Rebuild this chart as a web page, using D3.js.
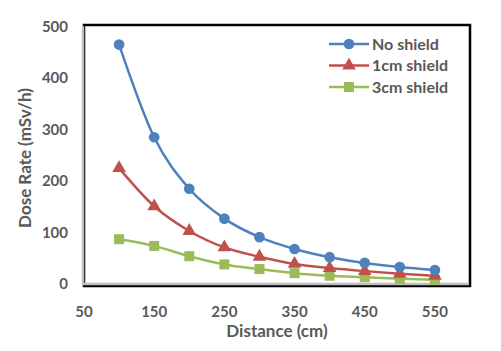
<!DOCTYPE html>
<html>
<head>
<meta charset="utf-8">
<script src="https://cdn.jsdelivr.net/npm/d3@7"></script>
<style>
  html, body { margin: 0; padding: 0; background: #fff; }
  svg text { font-family: Lato, "Open Sans", sans-serif; font-weight: bold; fill: #595959; }
</style>
</head>
<body>
<div id="chart"></div>
<script>
// Dose rate vs distance, three shielding cases
const distances = [100, 150, 200, 250, 300, 350, 400, 450, 500, 550];
const noShield  = [465, 285, 185, 127, 91, 68, 52, 41, 33, 27];
const cm1Shield = [225, 151, 103, 71, 53, 39, 31, 25, 20, 16];
const cm3Shield = [87, 74, 54, 38, 29, 21, 16, 13, 10, 8];
const xTicks = [50, 150, 250, 350, 450, 550];
const yTicks = [0, 100, 200, 300, 400, 500];

const SERIES = [
  { name: "No shield",   values: noShield,  color: "#4F81BD", shape: "circle" },
  { name: "1cm shield",  values: cm1Shield, color: "#C0504D", shape: "triangle" },
  { name: "3cm shield",  values: cm3Shield, color: "#9BBB59", shape: "square" }
];

const W = 501, H = 351;
const M = { top: 25, right: 31, bottom: 65, left: 84 };
const iW = W - M.left - M.right, iH = H - M.top - M.bottom;

const svg = d3.select("#chart").append("svg").attr("width", W).attr("height", H);
const g = svg.append("g").attr("transform", `translate(${M.left},${M.top})`);

const x = d3.scaleLinear().domain([50, 600]).range([0, iW]);
const y = d3.scaleLinear().domain([0, 503]).range([iH - 2, 0]);

// Frame: black outline with grey inner edge on left / bottom
g.append("rect").attr("x", 0).attr("y", 0).attr("width", iW).attr("height", iH)
  .attr("fill", "none").attr("stroke", "#000").attr("stroke-width", 2.5);
g.append("line").attr("x1", -1).attr("x2", -1).attr("y1", 1).attr("y2", iH - 2)
  .attr("stroke", "#bfbfbf").attr("stroke-width", 2.5);
g.append("line").attr("x1", -1).attr("x2", iW - 1).attr("y1", iH - 2).attr("y2", iH - 2)
  .attr("stroke", "#bfbfbf").attr("stroke-width", 2.5);

// Tick labels (no tick marks)
g.selectAll(".ytick").data(yTicks).join("text")
  .attr("x", -16).attr("y", d => y(d)).attr("dy", "0.35em")
  .attr("text-anchor", "end").attr("font-size", "15px").text(d => d);
g.selectAll(".xtick").data(xTicks).join("text")
  .attr("x", d => x(d)).attr("y", iH + 31)
  .attr("text-anchor", "middle").attr("font-size", "15px").text(d => d);

// Axis titles
svg.append("text").attr("transform", `translate(31,158) rotate(-90)`)
  .attr("text-anchor", "middle").attr("font-size", "17px").text("Dose Rate (mSv/h)");
svg.append("text").attr("x", 277).attr("y", 337)
  .attr("text-anchor", "middle").attr("font-size", "17px").text("Distance (cm)");

const symbolFor = {
  circle:   d3.symbol().type(d3.symbolCircle).size(90),
  triangle: d3.symbol().type(d3.symbolTriangle).size(80),
  square:   d3.symbol().type(d3.symbolSquare).size(100)
};

const line = d3.line().curve(d3.curveMonotoneX)
  .x((d, i) => x(distances[i])).y(d => y(d));

// draw back-to-front so blue sits on top
SERIES.slice().reverse().forEach(s => {
  g.append("path").datum(s.values)
    .attr("fill", "none").attr("stroke", s.color).attr("stroke-width", 2.5)
    .attr("d", line);
  g.selectAll(null).data(s.values).join("path")
    .attr("transform", (d, i) => `translate(${x(distances[i])},${y(d)})`)
    .attr("fill", s.color).attr("d", symbolFor[s.shape]);
});

// Legend
const lg = svg.append("g").attr("transform", "translate(329,44)");
SERIES.forEach((s, i) => {
  const row = lg.append("g").attr("transform", `translate(0,${i * 21.5})`);
  row.append("line").attr("x1", 0).attr("x2", 40).attr("y1", 0).attr("y2", 0)
    .attr("stroke", s.color).attr("stroke-width", 2.5);
  row.append("path").attr("transform", "translate(20,0)")
    .attr("fill", s.color).attr("d", symbolFor[s.shape]);
  row.append("text").attr("x", 43).attr("y", 0).attr("dy", "0.35em")
    .attr("font-size", "16px").text(s.name);
});
</script>
</body>
</html>
